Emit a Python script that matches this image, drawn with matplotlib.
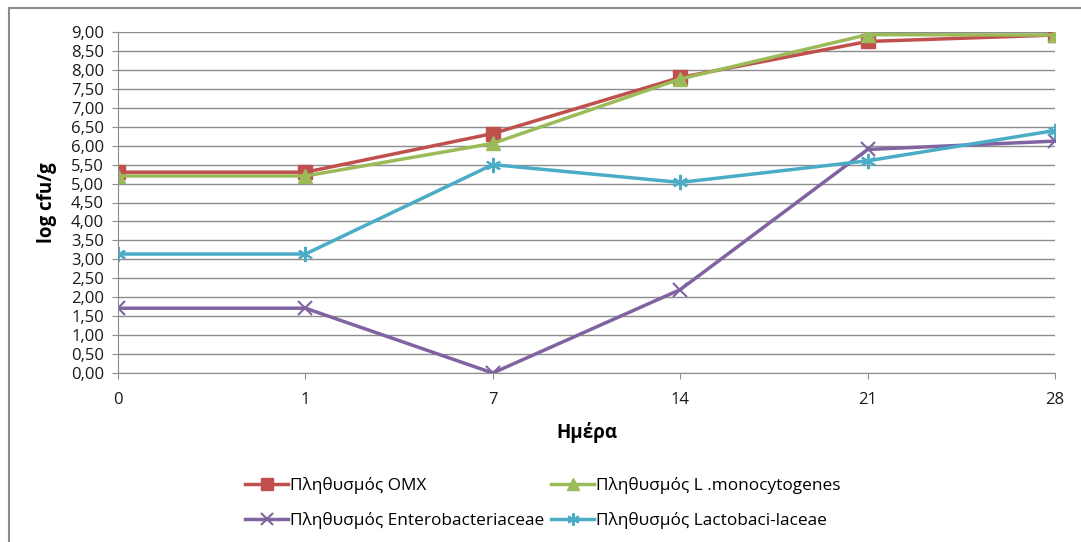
import matplotlib
matplotlib.use('Agg')
import matplotlib.pyplot as plt
from matplotlib.patches import Rectangle
from matplotlib.ticker import FuncFormatter

days = ['0', '1', '7', '14', '21', '28']
omx = [5.30, 5.30, 6.32, 7.80, 8.75, 8.92]
listeria = [5.20, 5.20, 6.06, 7.76, 8.93, 8.92]
entero = [1.71, 1.71, 0.00, 2.20, 5.90, 6.12]
lacto = [3.14, 3.14, 5.50, 5.03, 5.60, 6.40]

labels = ['Πληθυσμός ΟΜΧ', 'Πληθυσμός L .monocytogenes',
          'Πληθυσμός Enterobacteriaceae', 'Πληθυσμός Lactobaci-laceae']

plt.rcParams['font.family'] = ['Open Sans', 'DejaVu Sans']

fig = plt.figure(figsize=(10.81, 5.42), dpi=100)
fig.patches.append(Rectangle((9 / 1081, -0.01), 1.1, 1 - 8 / 542 + 0.01,
                             transform=fig.transFigure, fill=False,
                             edgecolor='#8c8c8c', linewidth=1.5))

ax = fig.add_axes([118 / 1081, 1 - 373 / 542, (1055 - 118) / 1081, (373 - 32) / 542])
x = list(range(len(days)))

l1, = ax.plot(x, omx, color='#C0504D', marker='s', markersize=10, linewidth=2.5)
l2, = ax.plot(x, listeria, color='#9BBB59', marker='^', markersize=10, linewidth=2.5)
l3, = ax.plot(x, entero, color='#8064A2', marker='x', markersize=10, markeredgewidth=1.5,
              linewidth=2.5)
l4, = ax.plot(x, lacto, color='#4BACC6', marker=(6, 2, 0), markersize=11, markeredgewidth=1.5,
              linewidth=2.5)

ax.set_xlim(0, len(days) - 1)
ax.set_ylim(0, 9)
ax.set_xticks(x)
ax.set_xticklabels(days)
ax.set_yticks([i * 0.5 for i in range(19)])
ax.yaxis.set_major_formatter(FuncFormatter(lambda v, p: f'{v:.2f}'.replace('.', ',')))
ax.grid(axis='y', color='#8c8c8c', linewidth=1)
ax.set_axisbelow(True)
for s in ['top', 'right']:
    ax.spines[s].set_visible(False)
for s in ['left', 'bottom']:
    ax.spines[s].set_color('#8c8c8c')
ax.tick_params(axis='both', colors='#8c8c8c', labelcolor='#1a1a1a', labelsize=12, length=4)
ax.tick_params(axis='y', pad=6)
ax.tick_params(axis='x', pad=10)

ax.set_xlabel('Ημέρα', fontweight='bold', fontsize=13.5, labelpad=10)
ax.set_ylabel('log cfu/g', fontweight='bold', fontsize=13.5, labelpad=10)

# row order as in the reference: OMX, Listeria / Entero, Lacto
fig.legend([l1, l3, l2, l4], [labels[0], labels[2], labels[1], labels[3]],
           loc='center', bbox_to_anchor=(543 / 1081, 1 - 503 / 542), ncol=2,
           frameon=False, fontsize=12.4, handlelength=2.5, columnspacing=0.4,
           handletextpad=0.1, labelspacing=1.05, borderpad=0, markerscale=0.8)

plt.savefig('out.png', dpi=100)
